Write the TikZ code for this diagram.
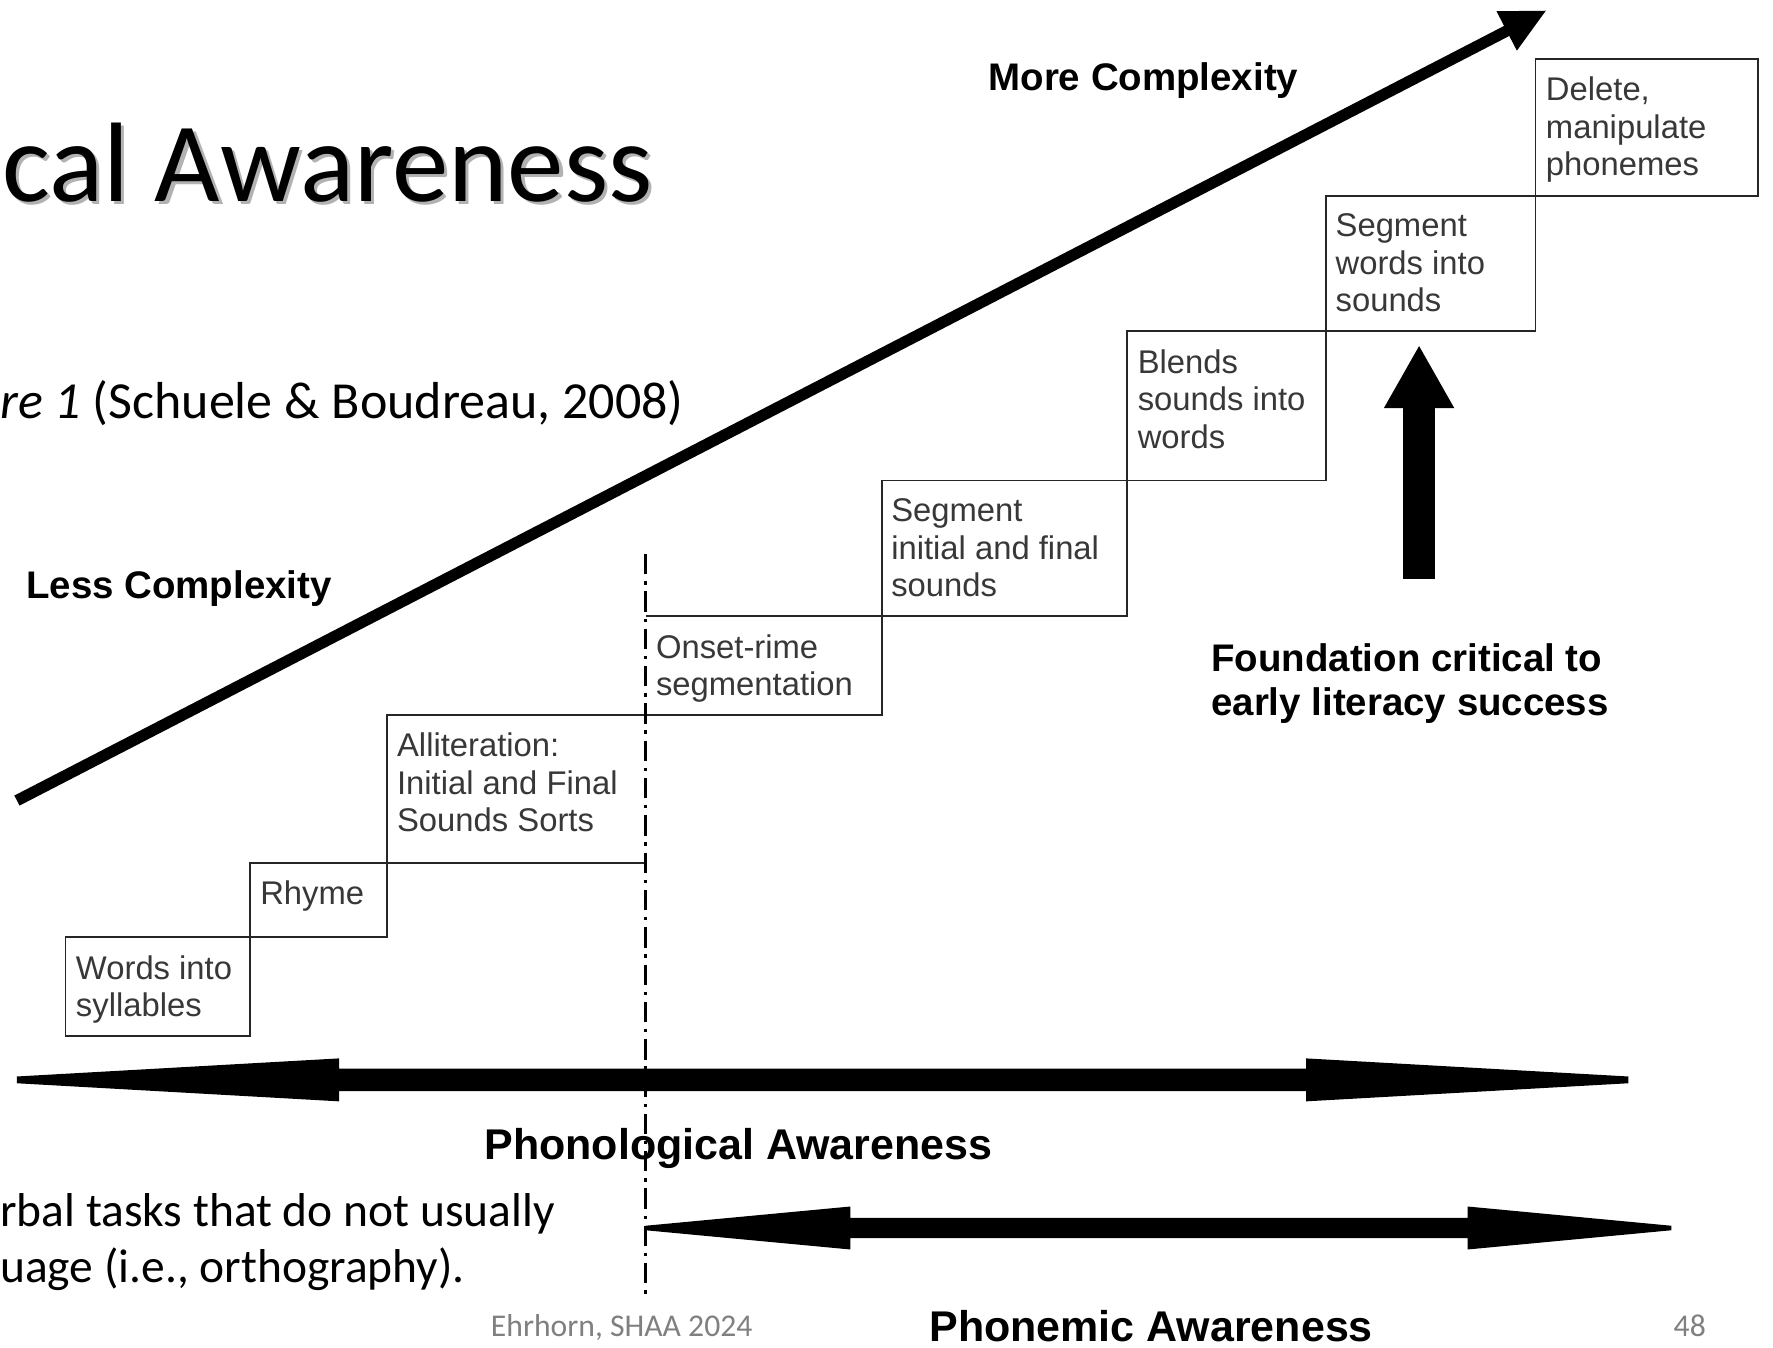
\documentclass[tikz,border=0pt]{standalone}
\usepackage{fontspec}
\setmainfont{Carlito}
\newfontfamily\arialfont{Liberation Sans}
\usetikzlibrary{arrows.meta}

\begin{document}
\begin{tikzpicture}[x=1pt,y=-1pt,
  stepbox/.style={draw=black!85,line width=1.6pt},
  boxtext/.style={anchor=north west,align=left,inner sep=0pt,text=black!78,
    font=\arialfont\fontsize{29}{33}\selectfont},
  boldlbl/.style={inner sep=0pt,font=\arialfont\bfseries\fontsize{34}{39}\selectfont},
  biglbl/.style={inner sep=0pt,font=\arialfont\bfseries\fontsize{38}{44}\selectfont},
  slidetext/.style={inner sep=0pt,anchor=base west,font=\fontsize{42}{50}\selectfont},
  footer/.style={inner sep=0pt,anchor=base west,text=black!50,font=\fontsize{28}{32}\selectfont}]

\useasboundingbox (0,0) rectangle (1568,1192);
\fill[white] (0,0) rectangle (1568,1192);

% slide title with its soft shadow
\node[inner sep=0pt,anchor=base west,text=black!30,font=\fontsize{100}{110}\selectfont] (titleshadow) at (5,181) {cal Awareness};
\node[inner sep=0pt,anchor=base west,font=\fontsize{100}{110}\selectfont] (title) at (2,178) {cal Awareness};

\node[slidetext,font=\fontsize{46}{50}\selectfont] (cite) at (0,370) {\textit{re 1} (Schuele \& Boudreau, 2008)};
\node[slidetext] (body1) at (0,1085) {rbal tasks that do not usually};
\node[slidetext] (body2) at (0,1134) {uage (i.e., orthography).};
\node[footer] (author) at (434,1182) {Ehrhorn, SHAA 2024};
\node[footer] (pagenum) at (1480,1182) {48};

% diagonal complexity arrow
\coordinate (lowend) at (15,708);
\coordinate (highend) at (1368,9);
\draw[line width=10pt,-{Triangle[length=40pt,width=36pt]}] (lowend) -- (highend);

\node[boldlbl,anchor=base west] (more) at (874,80) {More Complexity};
\node[boldlbl,anchor=base west] (less) at (23,529) {Less Complexity};

% staircase of skills
\draw[stepbox] (58,829) rectangle (221,916);
\draw[stepbox] (221,763) rectangle (342,829);
\draw[stepbox] (571,632) -- (342,632) -- (342,763) -- (571,763);
\draw[stepbox] (571,545) -- (780,545) -- (780,632) -- (571,632);
\draw[stepbox] (780,425) rectangle (997,545);
\draw[stepbox] (997,293) rectangle (1173,425);
\draw[stepbox] (1173,173) rectangle (1358,293);
\draw[stepbox] (1358,52) rectangle (1555,173);

\node[boxtext] (words) at (67,845) {Words into\\syllables};
\node[boxtext] (rhyme) at (230,779) {Rhyme};
\node[boxtext] (allit) at (351,648) {Alliteration:\\Initial and Final\\Sounds Sorts};
\node[boxtext] (onset) at (580,561) {Onset-rime\\segmentation};
\node[boxtext] (seginit) at (788,441) {Segment\\initial and final\\sounds};
\node[boxtext] (blends) at (1006,309) {Blends\\sounds into\\words};
\node[boxtext] (segwords) at (1181,189) {Segment\\words into\\sounds};
\node[boxtext] (delete) at (1367,68) {Delete,\\manipulate\\phonemes};

% boundary between phonological and phonemic skills
\coordinate (divtop) at (571,490);
\coordinate (divbot) at (571,1148);
\draw[line width=2.6pt,dash pattern=on 18pt off 6pt on 3pt off 6pt] (divtop) -- (divbot);

% foundation arrow
\coordinate (foundbase) at (1255,512);
\coordinate (foundtip) at (1255,305);
\draw[line width=29pt,-{Triangle[length=56pt,width=58pt]}] (foundbase) -- (foundtip);
\node[boldlbl,anchor=base west,align=left] (found) at (1071,633) {Foundation critical to\\early literacy success};

% phonological awareness span
\fill (15,952) -- (300,936) -- (300,945) -- (1155,945) -- (1155,936) -- (1440,952)
  -- (1440,958) -- (1155,974) -- (1155,965) -- (300,965) -- (300,974) -- (15,958) -- cycle;
\node[biglbl,anchor=base] (phono) at (653,1025) {Phonological Awareness};

% phonemic awareness span
\fill (571,1084) -- (752,1067) -- (752,1077) -- (1298,1077) -- (1298,1067) -- (1478,1084)
  -- (1478,1088) -- (1298,1105) -- (1298,1095) -- (752,1095) -- (752,1105) -- (571,1088) -- cycle;
\node[biglbl,anchor=base] (phonemic) at (1018,1186) {Phonemic Awareness};
\end{tikzpicture}
\end{document}
